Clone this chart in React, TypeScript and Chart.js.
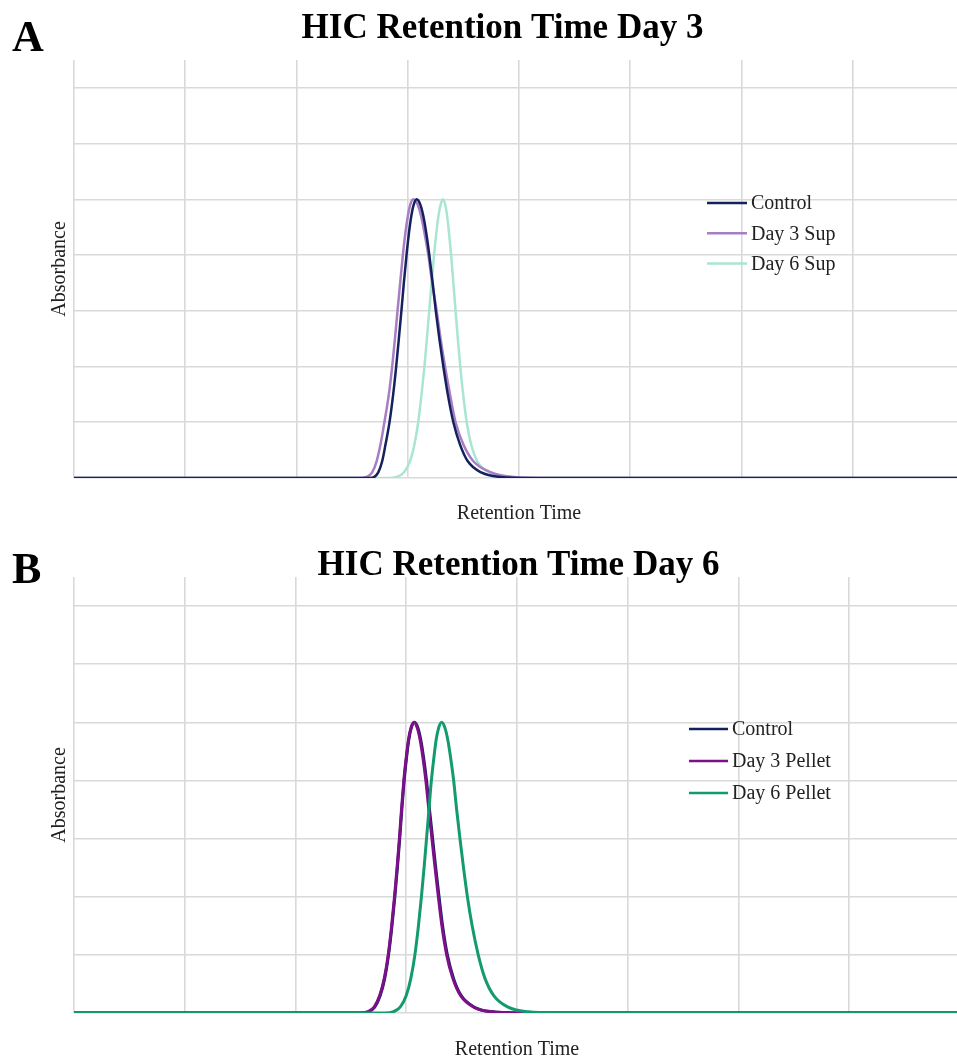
import React, { useEffect, useRef } from 'react';
import { Chart, registerables } from 'chart.js';

Chart.register(...registerables);

const FONT = '"Liberation Serif", "Times New Roman", serif';

// Gridline positions (retention time units / absorbance units)
const X_TICKS = [0, 1, 2, 3, 4, 5, 6, 7];
const Y_TICKS = [0, 1, 2, 3, 4, 5, 6, 7];

// Absorbance levels at which each trace's retention time was read (rising edge, apex, falling edge)
const PEAK_Y = [0, 0, 0.02, 0.1, 0.3, 0.6, 1, 1.5, 2, 2.5, 3, 3.5, 4, 4.4, 4.7, 4.9, 5, 4.9, 4.7, 4.4, 4, 3.5, 3, 2.5, 2, 1.5, 1, 0.6, 0.3, 0.1, 0.02, 0, 0];

// Panel A — Day 3
const A_LABELS = ['Control', 'Day 3 Sup', 'Day 6 Sup'];
const A_CONTROL_X = [0, 2.66, 2.70, 2.735, 2.77, 2.80, 2.836, 2.869, 2.896, 2.920, 2.943, 2.965, 2.989, 3.011, 3.032, 3.053, 3.08, 3.114, 3.14, 3.166, 3.194, 3.224, 3.252, 3.284, 3.32, 3.36, 3.41, 3.47, 3.54, 3.66, 3.83, 4.1, 8];
const A_DAY3_X = [0, 2.57, 2.63, 2.68, 2.72, 2.755, 2.79, 2.83, 2.86, 2.885, 2.908, 2.932, 2.956, 2.979, 3.001, 3.022, 3.05, 3.09, 3.12, 3.15, 3.185, 3.22, 3.26, 3.295, 3.335, 3.38, 3.43, 3.50, 3.59, 3.75, 3.95, 4.3, 8];
const A_DAY6_X = [0, 2.83, 2.90, 2.965, 3.02, 3.06, 3.094, 3.124, 3.15, 3.172, 3.193, 3.214, 3.236, 3.257, 3.276, 3.295, 3.315, 3.337, 3.354, 3.371, 3.39, 3.41, 3.43, 3.45, 3.472, 3.498, 3.53, 3.57, 3.625, 3.735, 3.915, 4.2, 8];

// Panel B — Day 6
const B_LABELS = ['Control', 'Day 3 Pellet', 'Day 6 Pellet'];
const B_CONTROL_X = [0, 2.585, 2.655, 2.715, 2.765, 2.806, 2.84, 2.871, 2.897, 2.92, 2.941, 2.96, 2.981, 3.003, 3.023, 3.045, 3.074, 3.106, 3.131, 3.156, 3.183, 3.21, 3.238, 3.266, 3.296, 3.328, 3.371, 3.426, 3.496, 3.616, 3.776, 4.0, 8];
const B_DAY3_X = [0, 2.58, 2.65, 2.71, 2.76, 2.802, 2.837, 2.868, 2.894, 2.917, 2.938, 2.957, 2.978, 3.00, 3.02, 3.042, 3.07, 3.10, 3.125, 3.15, 3.177, 3.204, 3.232, 3.26, 3.29, 3.322, 3.365, 3.42, 3.49, 3.61, 3.77, 4.0, 8];
const B_DAY6_X = [0, 2.81, 2.88, 2.945, 3.00, 3.042, 3.078, 3.11, 3.137, 3.161, 3.183, 3.205, 3.227, 3.25, 3.27, 3.292, 3.32, 3.35, 3.375, 3.40, 3.428, 3.455, 3.485, 3.517, 3.552, 3.595, 3.65, 3.71, 3.79, 3.92, 4.10, 4.35, 8];

const A_COLORS = ['#14215e', '#a77dc4', '#a9e5d3'];
const B_COLORS = ['#14215e', '#7b1088', '#139b6f'];

const toPoints = (xs: number[], ys: number[]) => xs.map((x, i) => ({ x, y: ys[i] }));

const panelText = {
  id: 'panelText',
  afterDatasetsDraw(chart: any, _args: any, opts: any) {
    const ctx = chart.ctx;
    ctx.save();
    ctx.fillStyle = '#000';
    ctx.textBaseline = 'alphabetic';
    ctx.textAlign = 'left';
    ctx.font = `bold 44px ${FONT}`;
    ctx.fillText(opts.letter, opts.letterX, opts.letterY);
    ctx.textAlign = 'center';
    ctx.font = `bold 35px ${FONT}`;
    ctx.fillText(opts.title, opts.titleX, opts.titleY);
    chart.data.datasets.forEach((ds: any, i: number) => {
      const y = opts.legendY + i * opts.legendGap;
      ctx.strokeStyle = ds.borderColor;
      ctx.lineWidth = opts.legendLineWidth;
      ctx.beginPath();
      ctx.moveTo(opts.legendX, y);
      ctx.lineTo(opts.legendX + opts.legendLen, y);
      ctx.stroke();
      ctx.fillStyle = '#222';
      ctx.font = `20px ${FONT}`;
      ctx.textAlign = 'left';
      ctx.textBaseline = 'middle';
      ctx.fillText(ds.label, opts.legendX + opts.legendLen + 4, y + 1);
    });
    ctx.restore();
  },
};

type PanelProps = {
  width: number;
  height: number;
  labels: string[];
  xs: number[][];
  colors: string[];
  orders: number[];
  lineWidth: number;
  top: number;
  bottom: number;
  xTitlePad: { top: number; bottom: number };
  text: any;
};

function Panel(p: PanelProps) {
  const ref = useRef<HTMLCanvasElement | null>(null);
  useEffect(() => {
    if (!ref.current) return;
    const chart = new Chart(ref.current, {
      type: 'line',
      data: {
        datasets: p.labels.map((label, i) => ({
          label,
          data: toPoints(p.xs[i], PEAK_Y),
          borderColor: p.colors[i],
          backgroundColor: p.colors[i],
          borderWidth: p.lineWidth,
          pointRadius: 0,
          fill: false,
          cubicInterpolationMode: 'monotone' as const,
          order: p.orders[i],
        })),
      },
      options: {
        animation: false,
        responsive: false,
        events: [],
        layout: { padding: { top: p.top, left: 0, right: 0, bottom: p.bottom } },
        plugins: {
          legend: { display: false },
          tooltip: { enabled: false },
          title: { display: false },
          panelText: p.text,
        } as any,
        scales: {
          x: {
            type: 'linear',
            min: 0,
            max: 8,
            afterBuildTicks: (s: any) => {
              s.ticks = X_TICKS.map((v) => ({ value: v }));
            },
            ticks: { display: false },
            grid: { color: '#d9d9d9', lineWidth: 1.6, drawTicks: false },
            border: { display: false },
            title: {
              display: true,
              text: 'Retention Time',
              color: '#222',
              font: { family: FONT, size: 20 },
              padding: p.xTitlePad,
            },
          },
          y: {
            type: 'linear',
            min: 0,
            max: 7.5,
            afterBuildTicks: (s: any) => {
              s.ticks = Y_TICKS.map((v) => ({ value: v }));
            },
            ticks: { display: false },
            grid: { color: '#d9d9d9', lineWidth: 1.6, drawTicks: false },
            border: { display: false },
            title: {
              display: true,
              text: 'Absorbance',
              color: '#222',
              font: { family: FONT, size: 20 },
              padding: { top: 48, bottom: 2 },
            },
          },
        },
      },
      plugins: [panelText],
    });
    return () => chart.destroy();
  }, []);
  return (
    <div style={{ width: 957, height: p.height, overflow: 'hidden' }}>
      <canvas ref={ref} width={p.width} height={p.height} style={{ display: 'block' }} />
    </div>
  );
}

export default function App() {
  useEffect(() => {
    document.body.style.margin = '0';
    document.body.style.background = '#fff';
  }, []);
  return (
    <div style={{ width: 957, height: 1062, background: '#fff', overflow: 'hidden' }}>
      <Panel
        width={964}
        height={535}
        labels={A_LABELS}
        xs={[A_CONTROL_X, A_DAY3_X, A_DAY6_X]}
        colors={A_COLORS}
        orders={[0, 1, 2]}
        lineWidth={2.5}
        top={60}
        bottom={5}
        xTitlePad={{ top: 24, bottom: 4 }}
        text={{
          letter: 'A', letterX: 12, letterY: 51,
          title: 'HIC Retention Time Day 3', titleX: 502.5, titleY: 38,
          legendX: 707, legendY: 203, legendGap: 30.3, legendLen: 40, legendLineWidth: 2.5,
        }}
      />
      <Panel
        width={960}
        height={527}
        labels={B_LABELS}
        xs={[B_CONTROL_X, B_DAY3_X, B_DAY6_X]}
        colors={B_COLORS}
        orders={[2, 1, 0]}
        lineWidth={3}
        top={42}
        bottom={0}
        xTitlePad={{ top: 25, bottom: 0 }}
        text={{
          letter: 'B', letterX: 12, letterY: 48,
          title: 'HIC Retention Time Day 6', titleX: 518.5, titleY: 40,
          legendX: 689, legendY: 194, legendGap: 32, legendLen: 39, legendLineWidth: 2.5,
        }}
      />
    </div>
  );
}
